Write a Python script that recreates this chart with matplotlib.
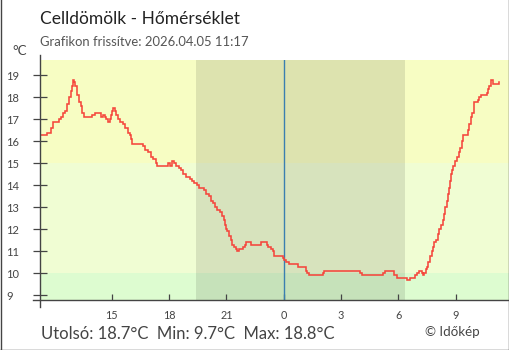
import matplotlib
matplotlib.use("Agg")
import matplotlib.pyplot as plt
from matplotlib.lines import Line2D

plt.rcParams['font.family'] = ['Lato', 'DejaVu Sans']

# Temperature record: clock hours (values past 24 are the next morning) and °C
hours = [11.26, 11.64, 11.82, 11.94, 12.24, 12.34, 12.46, 12.58, 12.69, 12.76,
         12.87, 12.93, 13.00, 13.06, 13.11, 13.21, 13.30, 13.39, 13.47, 13.56,
         14.00, 14.15, 14.43, 14.55, 14.64, 14.73, 14.82, 14.90, 14.96, 15.02,
         15.09, 15.17, 15.25, 15.34, 15.43, 15.58, 15.69, 15.88, 15.97, 16.00,
         16.09, 16.63, 16.75, 16.92, 17.05, 17.18, 17.31, 17.39, 17.97, 18.06,
         18.18, 18.28, 18.37, 18.54, 18.63, 18.75, 18.89, 19.10, 19.19, 19.31,
         19.45, 19.59, 19.83, 19.94, 20.11, 20.18, 20.32, 20.41, 20.53, 20.67,
         20.76, 20.88, 20.93, 20.98, 21.05, 21.16, 21.23, 21.31, 21.40, 21.49,
         21.57, 21.68, 21.89, 21.98, 22.03, 22.28, 22.80, 23.11, 23.19, 23.32,
         23.43, 23.49, 23.95, 24.02, 24.12, 24.29, 24.76, 25.17, 25.23, 25.34,
         26.04, 26.11, 27.99, 28.08, 29.21, 29.31, 29.78, 29.94, 30.43, 30.60,
         30.86, 30.98, 31.09, 31.21, 31.27, 31.35, 31.44, 31.51, 31.56, 31.65,
         31.75, 31.79, 31.87, 31.96, 32.05, 32.13, 32.22, 32.31, 32.38, 32.45,
         32.52, 32.57, 32.63, 32.69, 32.75, 32.81, 32.87, 32.96, 33.08, 33.15,
         33.22, 33.31, 33.39, 33.62, 33.69, 33.78, 33.86, 33.95, 34.14, 34.22,
         34.30, 34.64, 34.70, 34.75, 34.82, 34.96, 35.27, 35.28]
temps = [16.3, 16.4, 16.6, 16.9, 17.0, 17.1, 17.3, 17.4, 17.7, 18.0,
         18.3, 18.5, 18.8, 18.7, 18.5, 18.1, 17.8, 17.6, 17.3, 17.1,
         17.2, 17.3, 17.1, 17.2, 17.1, 17.0, 16.9, 17.0, 17.2, 17.4,
         17.5, 17.4, 17.2, 17.0, 16.9, 16.8, 16.6, 16.4, 16.3, 16.1,
         15.9, 15.8, 15.6, 15.5, 15.3, 15.2, 15.0, 14.9, 15.0, 14.9,
         15.1, 15.0, 14.9, 14.8, 14.7, 14.5, 14.4, 14.3, 14.2, 14.1,
         14.0, 13.9, 13.8, 13.6, 13.5, 13.3, 13.2, 13.0, 12.9, 12.8,
         12.6, 12.4, 12.2, 12.0, 11.9, 11.7, 11.5, 11.3, 11.2, 11.1,
         11.0, 11.1, 11.2, 11.3, 11.4, 11.3, 11.4, 11.3, 11.2, 11.1,
         11.0, 10.8, 10.7, 10.6, 10.5, 10.4, 10.3, 10.1, 10.0, 9.9,
         10.0, 10.1, 10.0, 9.9, 10.0, 10.1, 9.9, 9.8, 9.7, 9.8,
         9.9, 10.0, 10.1, 10.0, 9.9, 10.0, 10.2, 10.3, 10.5, 10.8,
         11.0, 11.2, 11.4, 11.5, 11.8, 12.0, 12.2, 12.4, 12.7, 13.0,
         13.3, 13.6, 13.9, 14.2, 14.5, 14.7, 14.9, 15.1, 15.3, 15.5,
         15.7, 16.0, 16.3, 16.5, 16.8, 17.1, 17.3, 17.8, 17.9, 18.0,
         18.1, 18.2, 18.4, 18.5, 18.8, 18.6, 18.7, 18.7]

tick_hours = [15, 18, 21, 24, 27, 30, 33]
tick_labels = ['15', '18', '21', '0', '3', '6', '9']
y_ticks = [9, 10, 11, 12, 13, 14, 15, 16, 17, 18, 19]

# Background comfort bands (lower, upper, colour) and the night period
bands = [(8.0, 10.0, '#ddfcd0'), (10.0, 15.0, '#f0fdd3'), (15.0, 21.0, '#f7fdc3')]
night_start, night_end = 19.42, 30.34

title = 'Celldömölk - Hőmérséklet'
subtitle = 'Grafikon frissítve: 2026.04.05 11:17'
summary = 'Utolsó: 18.7°C  Min: 9.7°C  Max: 18.8°C'
credit = '© Időkép'

W, H = 510, 350
fig = plt.figure(figsize=(W / 100, H / 100), dpi=100)
ax_l, ax_r, ax_t, ax_b = 40, 509, 60, 300.3
ax = fig.add_axes([ax_l / W, 1 - ax_b / H, (ax_r - ax_l) / W, (ax_b - ax_t) / H])
ax.set_xlim(11.26, 35.78)
ax.set_ylim(8.77, 19.70)

for lo, hi, c in bands:
    ax.axhspan(lo, hi, color=c, lw=0, zorder=0)
ax.axvspan(night_start, night_end, color='black', alpha=0.1, lw=0, zorder=1)
ax.axvline(24, color='#3a7fb0', lw=1.0, zorder=2)

ax.plot(hours, temps, drawstyle='steps-post', color='#f5463c', lw=1.15,
        zorder=3, solid_joinstyle='miter')

for s in ax.spines.values():
    s.set_visible(False)

axis_col = '#444444'
plot_w, plot_h = ax_r - ax_l, ax_b - ax_t
# axis lines, slightly overshooting the plot area
ax.add_line(Line2D([0, 0], [-6.4 / plot_h, 1 + 5 / plot_h], transform=ax.transAxes,
                   color=axis_col, lw=1.0, clip_on=False, zorder=4))
ax.add_line(Line2D([-7 / plot_w, 1], [0, 0], transform=ax.transAxes,
                   color=axis_col, lw=1.0, clip_on=False, zorder=4))

ax.set_yticks(y_ticks)
ax.set_yticklabels([])
ax.tick_params(axis='y', direction='inout', length=9.6, width=0.9, color=axis_col)
ax.set_xticks(tick_hours)
ax.set_xticklabels([])
ax.tick_params(axis='x', direction='in', length=4.4, width=0.9, color=axis_col)
for t in ax.get_xticklines():
    t.set_zorder(5)

ytr = ax.get_yaxis_transform()
for v in y_ticks:
    ax.text((6 - ax_l) / plot_w, v, str(v), transform=ytr, ha='left',
            va='center_baseline', fontsize=8, color=axis_col)
xtr = ax.get_xaxis_transform()
for h, lab in zip(tick_hours, tick_labels):
    ax.text(h, -(319 - ax_b) / plot_h, lab, transform=xtr, ha='center',
            va='baseline', fontsize=7.8, color=axis_col)

fig.text(40 / W, 1 - 24 / H, title, fontsize=12.5, color='#222222', va='baseline')
fig.text(40.5 / W, 1 - 45.7 / H, subtitle, fontsize=9.4, color='#555555', va='baseline')
fig.text(12 / W, 1 - 55 / H, '°C', fontsize=9.5, color=axis_col, va='baseline')
fig.text(41 / W, 1 - 339.3 / H, summary, fontsize=12, color=axis_col, va='baseline')
fig.text(425 / W, 1 - 335.7 / H, credit, fontsize=9.6, color=axis_col, va='baseline')

# outer frame on left, right and bottom
for xs, ys in [([0.5, 0.5], [0, H]), ([W - 0.5, W - 0.5], [0, H]), ([0, W], [H - 0.5, H - 0.5])]:
    fig.add_artist(Line2D([x / W for x in xs], [1 - y / H for y in ys],
                          transform=fig.transFigure, color='#444444', lw=1.0))

fig.savefig('out.png', dpi=100, facecolor='white')
